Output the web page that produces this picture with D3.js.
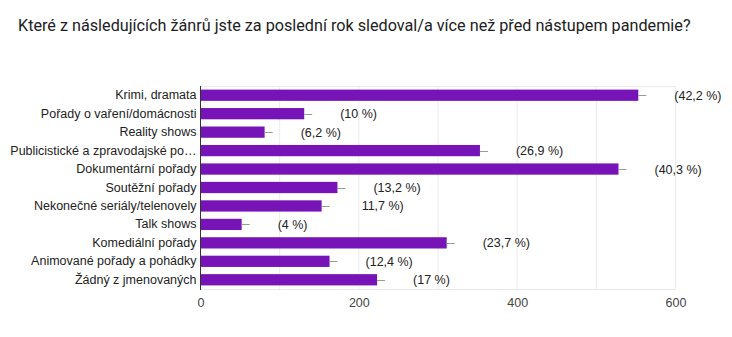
<!DOCTYPE html>
<html><head><meta charset="utf-8">
<script src="https://cdn.jsdelivr.net/npm/d3@7"></script>
<style>body{margin:0;background:#fff}svg{display:block}</style>
</head><body>
<script>
const title = "Které z následujících žánrů jste za poslední rok sledoval/a více než před nástupem pandemie?";
const categories = ["Krimi, dramata","Pořady o vaření/domácnosti","Reality shows","Publicistické a zpravodajské po…","Dokumentární pořady","Soutěžní pořady","Nekonečné seriály/telenovely","Talk shows","Komediální pořady","Animované pořady a pohádky","Žádný z jmenovaných"];
const counts = [553,131,81,353,528,173,153,52,311,163,223];
const labels = ["(42,2 %)","(10 %)","(6,2 %)","(26,9 %)","(40,3 %)","(13,2 %)","11,7 %)","(4 %)","(23,7 %)","(12,4 %)","(17 %)"];
const ticks = [0,200,400,600];
const grid = [100,200,300,400,500,600];

const W=732,H=337;
const svg=d3.select("body").append("svg").attr("width",W).attr("height",H);
svg.append("text").attr("x",18).attr("y",31).text(title)
  .attr("font-family","Roboto, 'Noto Sans', sans-serif").attr("font-size",16.2).attr("fill","#202124");

const x=d3.scaleLinear().domain([0,600]).range([200.5,675.5]);
const y=d3.scaleBand().domain(categories).range([86,289]).paddingInner(0.39).paddingOuter(0.195);
const font="'Liberation Sans', Arial, sans-serif";

svg.append("g").selectAll("line").data(grid).join("line")
  .attr("x1",d=>x(d)).attr("x2",d=>x(d)).attr("y1",86).attr("y2",289)
  .attr("stroke","#ebebeb").attr("stroke-width",1);
svg.append("line").attr("x1",200).attr("x2",x(600)).attr("y1",86.5).attr("y2",86.5).attr("stroke","#ebebeb");
svg.append("line").attr("x1",200).attr("x2",x(600)).attr("y1",289.5).attr("y2",289.5).attr("stroke","#e8e8ec");

const rows=categories.map((c,i)=>({c,v:counts[i],l:labels[i]}));
svg.append("g").selectAll("rect").data(rows).join("rect")
  .attr("x",x(0)).attr("y",d=>y(d.c)).attr("width",d=>x(d.v)-x(0)).attr("height",y.bandwidth())
  .attr("fill","#7614b8");
svg.append("g").selectAll("line").data(rows).join("line")
  .attr("x1",d=>x(d.v)).attr("x2",d=>x(d.v)+8)
  .attr("y1",d=>Math.round(y(d.c)+y.bandwidth()/2)+0.5).attr("y2",d=>Math.round(y(d.c)+y.bandwidth()/2)+0.5)
  .attr("stroke","#999").attr("stroke-width",1);
svg.append("g").selectAll("text").data(rows).join("text")
  .attr("x",d=>x(d.v)+36+(d.l[0]==="("?0:4)).attr("y",d=>y(d.c)+y.bandwidth()/2+4.5)
  .text(d=>d.l).attr("font-family",font).attr("font-size",12.5).attr("fill","#222");

const ya=svg.append("g").attr("transform","translate(200.5,0)")
  .call(d3.axisLeft(y).tickSize(0).tickPadding(4));
ya.select(".domain").attr("stroke","#333").attr("d","M0,86V290");
ya.selectAll("text").attr("font-family",font).attr("font-size",12.5).attr("fill","#222");

const xa=svg.append("g").attr("transform","translate(0,289)")
  .call(d3.axisBottom(x).tickValues(ticks).tickSize(0).tickPadding(9).tickFormat(d3.format("d")));
xa.select(".domain").remove();
xa.selectAll("text").attr("font-family",font).attr("font-size",12.5).attr("fill","#444");
</script>
</body></html>
